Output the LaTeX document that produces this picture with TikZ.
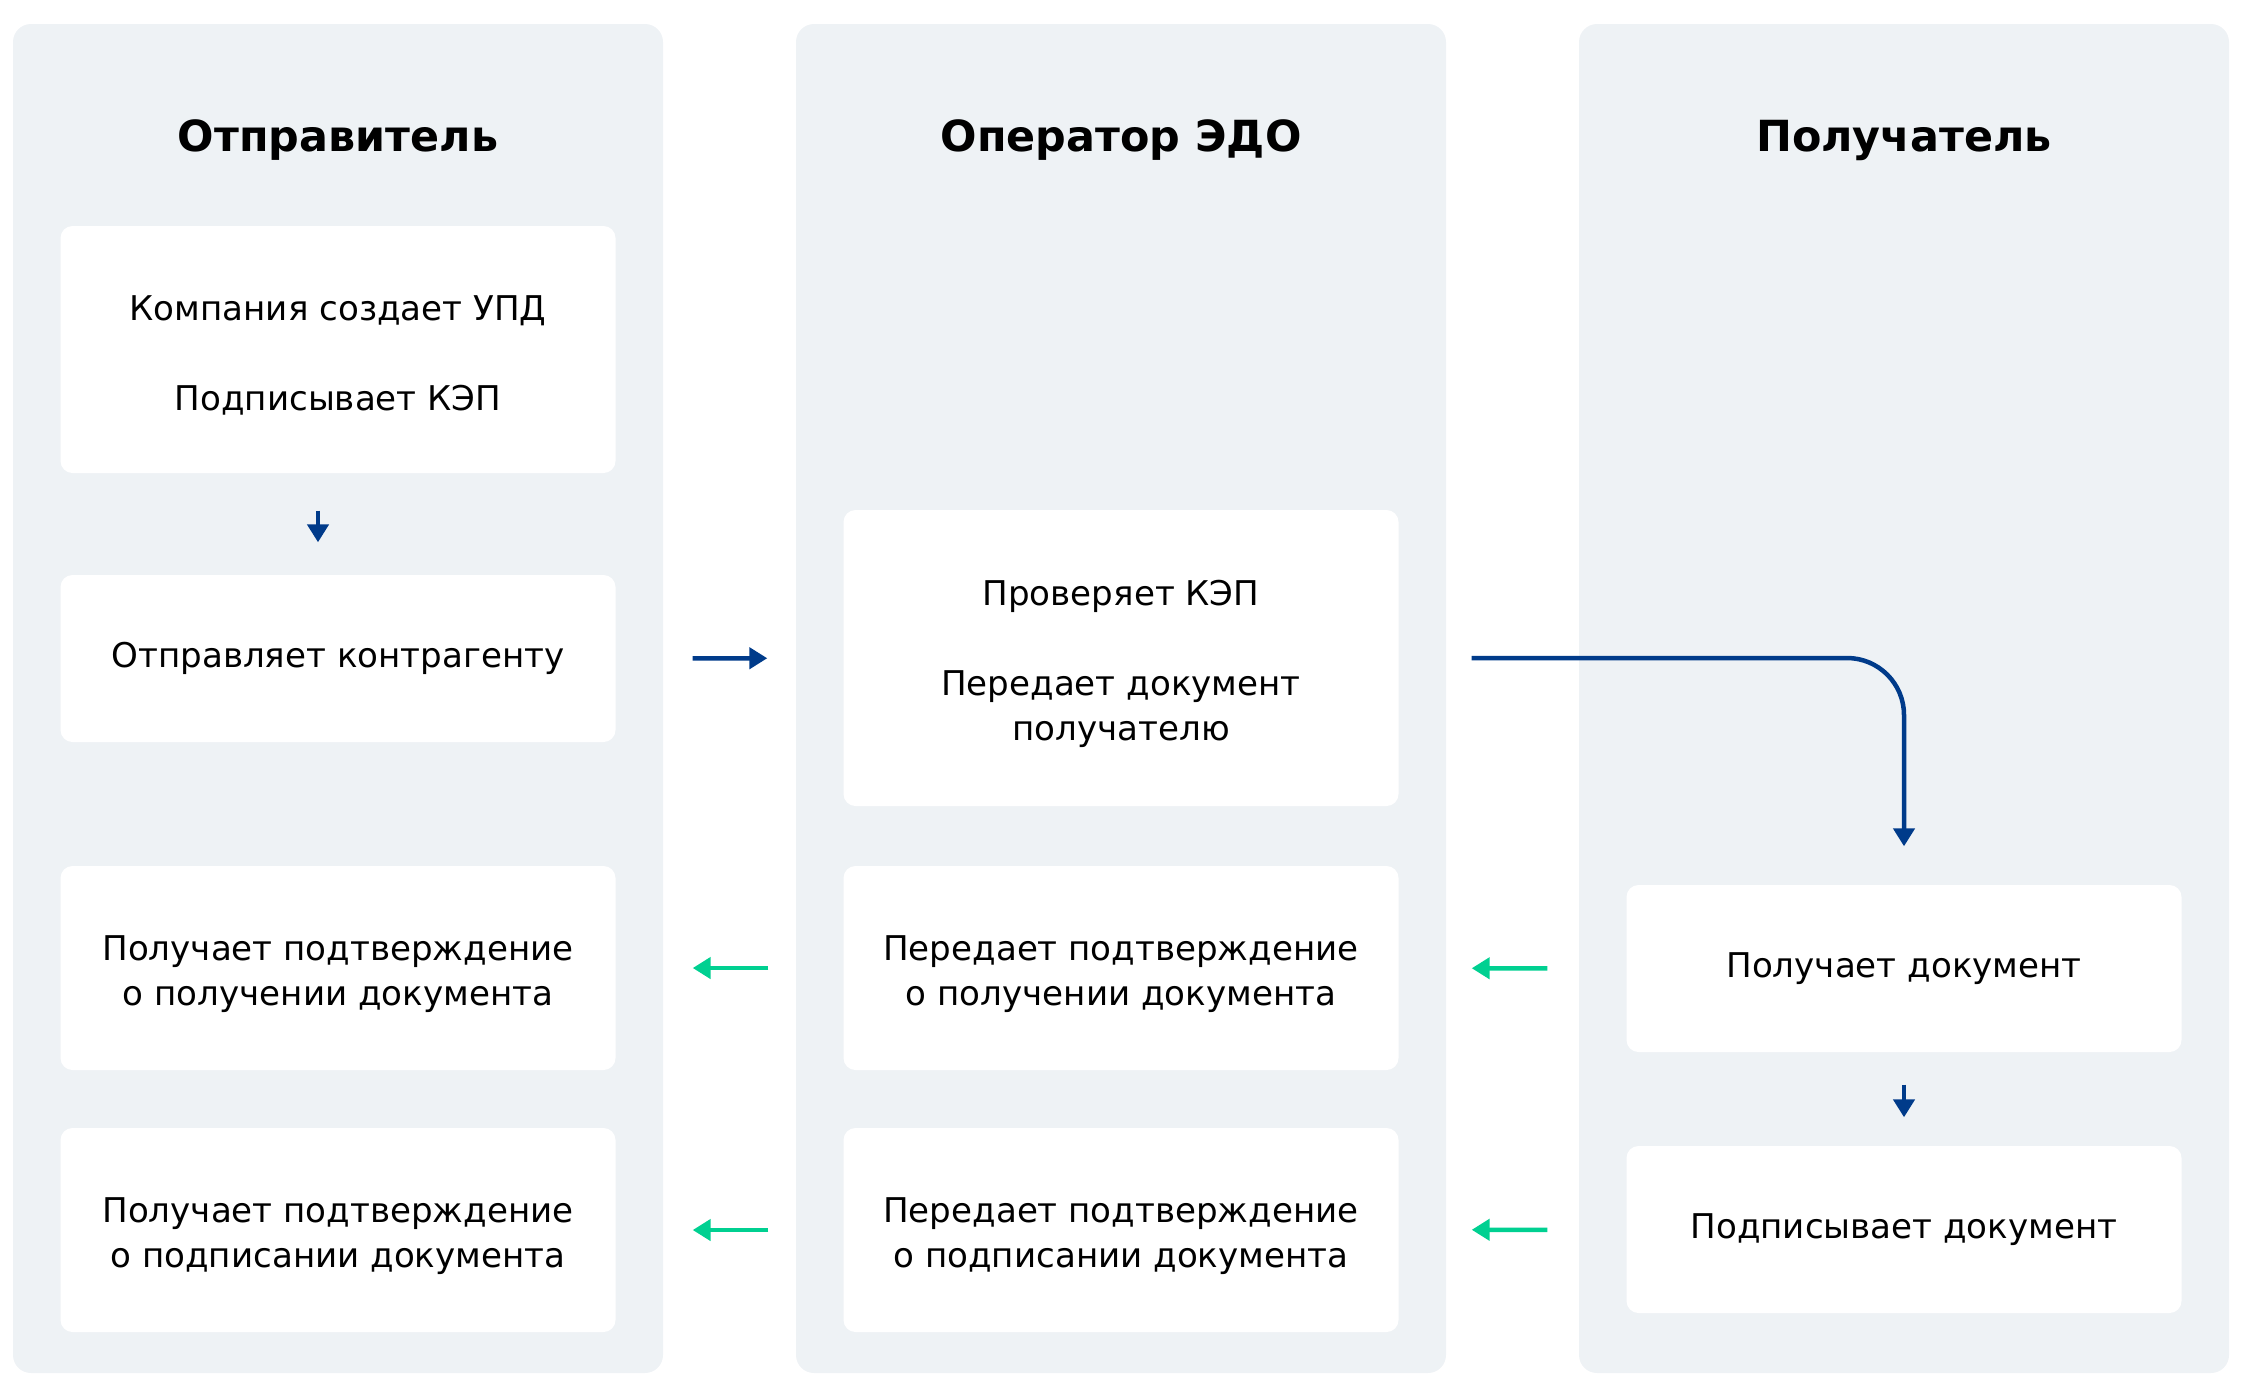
\documentclass[tikz,border=0pt]{standalone}
\usepackage{fontspec}
\setmainfont{DejaVu Sans}
\usetikzlibrary{arrows.meta}

\definecolor{lanebg}{RGB}{238,242,245}
\definecolor{flowblue}{RGB}{0,59,138}
\definecolor{backgreen}{RGB}{0,208,145}
\newcommand{\highstart}{\rule{0pt}{3.7mm}}

\begin{document}
\begin{tikzpicture}[x=0.1mm, y=-0.1mm,
    lane/.style = {rectangle, fill=lanebg, rounded corners=1.8mm, minimum width=65mm, minimum height=134.9mm, inner sep=0},
    head/.style = {anchor=base, font=\fontsize{12.2}{14}\selectfont\bfseries},
    box/.style = {rectangle, fill=white, rounded corners=1.2mm, minimum width=55.5mm, align=center, inner sep=0, font=\fontsize{9.7}{13}\selectfont},
    flow/.style = {draw=flowblue, line width=0.45mm, -{Triangle[length=1.8mm, width=2.1mm]}},
    back/.style = {draw=backgreen, line width=0.45mm, -{Triangle[length=1.8mm, width=2.1mm]}}]
    \useasboundingbox (0,0) rectangle (2241,1398);
    % lanes
    \node[lane] (L1) at (338,698.5) {};
    \node[lane] (L2) at (1121,698.5) {};
    \node[lane] (L3) at (1904,698.5) {};
    \node[head] (h1) at (338,151) {Отправитель};
    \node[head] (h2) at (1121,151) {Оператор ЭДО};
    \node[head] (h3) at (1904,151) {Получатель};
    % sender
    \node[box, minimum height=24.7mm] (s1) at (338,349.5) {\highstart Компания создает УПД\\[12.6pt]Подписывает КЭП};
    \node[box, minimum height=16.7mm] (s2) at (338,658.5) {Отправляет контрагенту};
    \node[box, minimum height=20.4mm] (s3) at (338,968) {\highstart Получает подтверждение\\о получении документа};
    \node[box, minimum height=20.4mm] (s4) at (338,1230) {\highstart Получает подтверждение\\о подписании документа};
    % operator
    \node[box, minimum height=29.6mm] (o1) at (1121,658) {\highstart Проверяет КЭП\\[12.6pt]Передает документ\\получателю};
    \node[box, minimum height=20.4mm] (o2) at (1121,968) {\highstart Передает подтверждение\\о получении документа};
    \node[box, minimum height=20.4mm] (o3) at (1121,1230) {\highstart Передает подтверждение\\о подписании документа};
    % receiver
    \node[box, minimum height=16.7mm] (r1) at (1904,968.5) {Получает документ};
    \node[box, minimum height=16.7mm] (r2) at (1904,1229.5) {Подписывает документ};
    % forward
    \draw[flow, shorten <=3.7mm, shorten >=3.2mm] ([xshift=-2mm]s1.south) -- ([xshift=-2mm]s2.north);
    \draw[flow, shorten <=7.65mm, shorten >=7.55mm] (s2) -- (o1);
    \draw[flow, rounded corners=5.7mm, shorten <=7.25mm, shorten >=3.8mm] (o1.east) -| (r1.north);
    \draw[flow, shorten <=3.2mm, shorten >=2.8mm] (r1) -- (r2);
    % confirmations
    \draw[back, shorten <=7.85mm, shorten >=7.25mm] (r1) -- (o2);
    \draw[back, shorten <=7.45mm, shorten >=7.65mm] (o2) -- (s3);
    \draw[back, shorten <=7.85mm, shorten >=7.25mm] (r2) -- (o3);
    \draw[back, shorten <=7.45mm, shorten >=7.65mm] (o3) -- (s4);
\end{tikzpicture}
\end{document}
